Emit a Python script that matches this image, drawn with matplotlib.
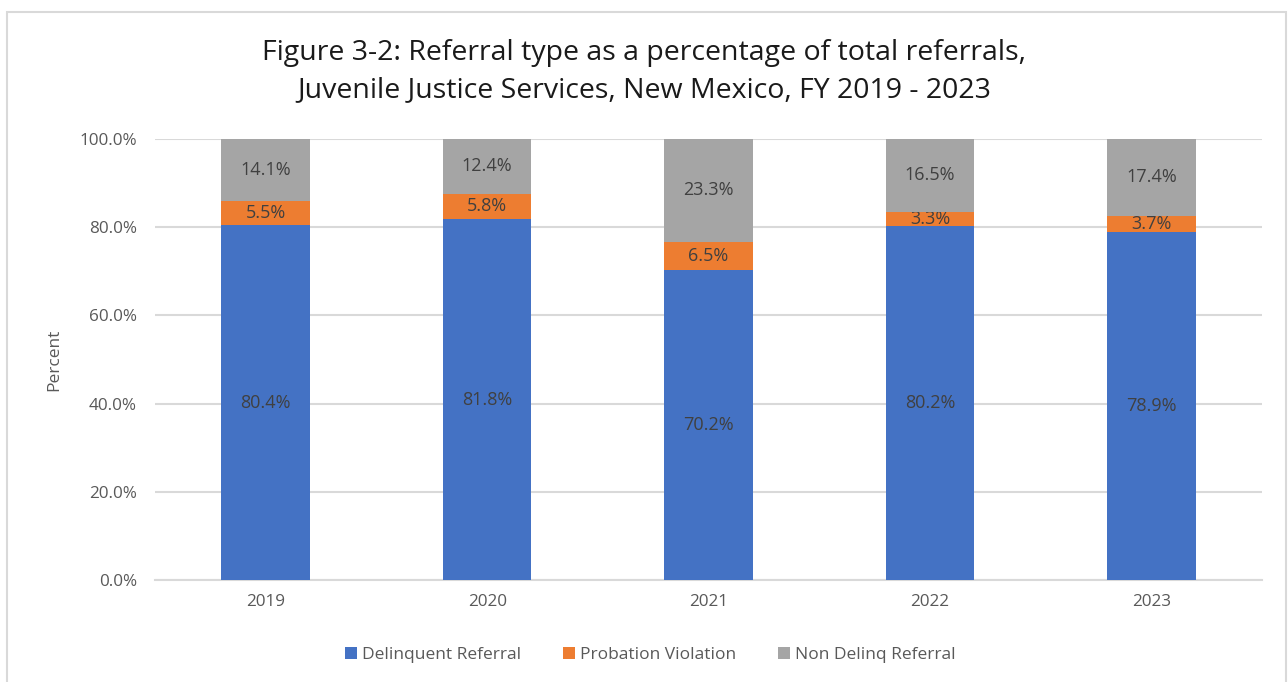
"""Stacked bar chart of referral types as a share of all referrals, FY 2019-2023."""

import matplotlib.pyplot as plt
from matplotlib.patches import Rectangle
from matplotlib.ticker import FuncFormatter

YEARS = ["2019", "2020", "2021", "2022", "2023"]
DELINQUENT = [80.4, 81.8, 70.2, 80.2, 78.9]
PROBATION = [5.5, 5.8, 6.5, 3.3, 3.7]
NON_DELINQ = [14.1, 12.4, 23.3, 16.5, 17.4]

SERIES = [
    ("Delinquent Referral", DELINQUENT, "#4472C4"),
    ("Probation Violation", PROBATION, "#ED7D31"),
    ("Non Delinq Referral", NON_DELINQ, "#A5A5A5"),
]

TEXT = "#595959"
GRID = "#D9D9D9"

plt.rcParams["font.family"] = ["Open Sans", "DejaVu Sans"]

fig = plt.figure(figsize=(12.88, 6.82), dpi=100)
ax = fig.add_axes([0.1203, 0.1496, 0.8597, 0.6466])

# chart frame, open at the bottom
fig.patches.append(Rectangle((7 / 1288, -0.05), 1279 / 1288, 1.05 - 12 / 682,
                             transform=fig.transFigure, fill=False,
                             edgecolor="#D9D9D9", linewidth=1.5))

x = range(len(YEARS))
bottom = [0.0] * len(YEARS)
for label, values, color in SERIES:
    bars = ax.bar(x, values, width=0.4, bottom=bottom, color=color,
                  label=label, zorder=3)
    ax.bar_label(bars, labels=[f"{v:.1f}%" for v in values],
                 label_type="center", color="#404040", fontsize=13)
    bottom = [b + v for b, v in zip(bottom, values)]

ax.set_xlim(-0.5, len(YEARS) - 0.5)
ax.set_ylim(0, 100)
ax.set_yticks(range(0, 101, 20))
ax.yaxis.set_major_formatter(FuncFormatter(lambda v, _: f"{v:.1f}%"))
ax.set_xticks(list(x))
ax.set_xticklabels(YEARS)
ax.tick_params(length=0, colors=TEXT, labelsize=12.3, pad=10)
ax.tick_params(axis="y", pad=13)
ax.grid(axis="y", color=GRID, linewidth=1.5, zorder=0)
for side in ("top", "right", "left"):
    ax.spines[side].set_visible(False)
ax.spines["bottom"].set_color(GRID)
ax.spines["bottom"].set_linewidth(1.5)
ax.set_ylabel("Percent", color=TEXT, fontsize=12.5, labelpad=12)

fig.text(0.50, 0.895,
         "Figure 3-2: Referral type as a percentage of total referrals,\n"
         "Juvenile Justice Services, New Mexico, FY 2019 - 2023",
         ha="center", va="center", fontsize=20.5, color="#1a1a1a",
         linespacing=1.4)

fig.legend(loc="center", bbox_to_anchor=(0.505, 0.039), ncol=3, frameon=False,
           fontsize=12.5, labelcolor=TEXT, handlelength=0.7, handleheight=0.7,
           handletextpad=0.3, columnspacing=2.4)

fig.savefig("out.png", dpi=100)
